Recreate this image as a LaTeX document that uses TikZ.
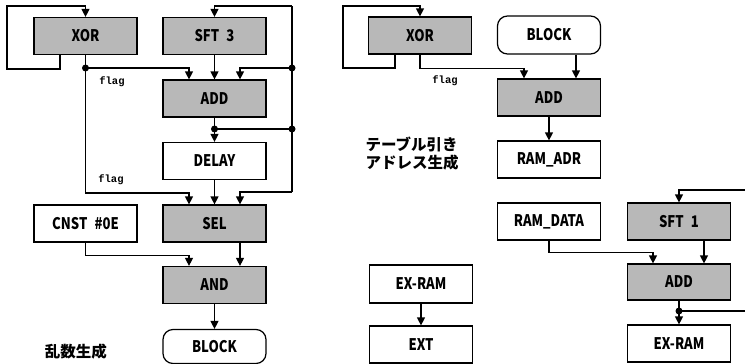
\documentclass[tikz,border=0pt]{standalone}
\usepackage{fontspec}
\newfontfamily\boxfont{Noto Sans CJK JP}[FakeStretch=0.82]
\newfontfamily\jpfont{Noto Sans CJK JP}
\newfontfamily\flagfont{Liberation Mono}
\usetikzlibrary{arrows.meta,calc}
\begin{document}
\begin{tikzpicture}[x=1pt,y=-1pt,line width=1.2pt,
  blk/.style={draw,rectangle,minimum width=103pt,minimum height=37pt,inner sep=0pt,
    font=\boxfont\bfseries\fontsize{16}{16}\selectfont},
  op/.style={blk,fill=black!28},
  term/.style={blk,rounded corners=10pt},
  arr/.style={-{Triangle[length=8pt,width=8pt]}},
  jdot/.style={circle,fill,inner sep=0pt,minimum size=7pt},
  flaglbl/.style={font=\flagfont\bfseries\fontsize{10.5}{10.5}\selectfont},
  jcap/.style={font=\jpfont\bfseries\fontsize{15.5}{18}\selectfont,align=left}]
\useasboundingbox (0,0) rectangle (745,364);
% left column
\node[op] (xor1) at (85.5,36) {XOR};
\node[op] (sft3) at (214.5,36) {SFT\hspace{0.45em}3};
\node[op] (add1) at (214.5,98.5) {ADD};
\node[blk] (delay) at (214.5,161) {DELAY};
\node[op] (sel) at (214.5,223.5) {SEL};
\node[blk] (cnst) at (85.5,223.5) {CNST\hspace{0.45em}\#0E};
\node[op] (and) at (214.5,285) {AND};
\node[term,minimum height=34pt] (block1) at (214.5,346.5) {BLOCK};
\node[jcap] (cap1) at (76,352) {乱数生成};
% coordinates
\coordinate (lp1) at (7,69);
\coordinate (lp2) at (7,6);
\coordinate (d1) at (85.5,68);
\coordinate (c1) at (85.5,193);
\coordinate (r0) at (292,6);
\coordinate (r1) at (292,68);
\coordinate (r2) at (292,129);
\coordinate (r3) at (292,192);
\coordinate (d2) at (214.5,129);
% connectors left
\draw[arr] ([xshift=-25.5pt]xor1.south) |- (lp1) -- (lp2) -| (xor1.north);
\draw (xor1.south) -- (d1);
\draw[arr] (d1) -| ([xshift=-25.5pt]add1.north);
\draw[arr] (d1) -- (c1) -| ([xshift=-25.5pt]sel.north);
\draw[arr] (sft3.south) -- (add1.north);
\draw (r0) -- (r3);
\draw[arr] (r0) -| (sft3.north);
\draw[arr] (r1) -| ([xshift=25.5pt]add1.north);
\draw[arr] (r3) -| ([xshift=25.5pt]sel.north);
\draw[arr] (add1.south) -- (delay.north);
\draw (d2) -- (r2);
\draw[arr] (delay.south) -- (sel.north);
\draw[arr] ([xshift=25.5pt]sel.south) -- ([xshift=25.5pt]and.north);
\draw[arr] (cnst.south) -- ++(0,13) -| ([xshift=-25.5pt]and.north);
\draw[arr] (and.south) -- (block1.north);
\node[jdot] at (d1) {};
\node[jdot] at (r1) {};
\node[jdot] at (r2) {};
\node[jdot] at (d2) {};
\node[flaglbl] (fl1) at (112,82) {flag};
\node[flaglbl] (fl2) at (111,180) {flag};
% right part
\node[op] (xor2) at (420,35.5) {XOR};
\node[term,minimum height=38pt] (block2) at (549,35) {BLOCK};
\node[op] (add2) at (549,97.5) {ADD};
\node[blk] (ramadr) at (549,159.5) {RAM\_ADR};
\node[blk] (ramdata) at (549,221.5) {RAM\_DATA};
\node[op] (sft1) at (679,221.5) {SFT\hspace{0.45em}1};
\node[op,minimum height=36pt] (add3) at (679,282) {ADD};
\node[blk] (exram2) at (679,343.5) {EX-RAM};
\node[blk,minimum height=38pt] (exram1) at (421,284) {EX-RAM};
\node[blk] (ext) at (421,344.5) {EXT};
\node[jcap] (cap2) at (412,154) {テーブル引き\\アドレス生成};
\node[flaglbl] (fl3) at (445,81) {flag};
\coordinate (lq1) at (343,68);
\coordinate (lq2) at (343,6);
\coordinate (e1) at (745,190);
\coordinate (d3) at (679,311);
\coordinate (e2) at (745,311);
\draw[arr] ([xshift=-25pt]xor2.south) |- (lq1) -- (lq2) -| (xor2.north);
\draw[arr] (xor2.south) -- ++(0,14) -| ([xshift=-25pt]add2.north);
\draw[arr] ([xshift=27pt]block2.south) -- ([xshift=27pt]add2.north);
\draw[arr] (add2.south) -- (ramadr.north);
\draw[arr] (ramdata.south) -- ++(0,12) -| ([xshift=-26pt]add3.north);
\draw[arr] (e1) -| (sft1.north);
\draw[arr] ([xshift=25pt]sft1.south) -- ([xshift=25pt]add3.north);
\draw[arr] (add3.south) -- (exram2.north);
\draw (d3) -- (e2);
\node[jdot] at (d3) {};
\draw[arr] (exram1.south) -- (ext.north);
\end{tikzpicture}
\end{document}
